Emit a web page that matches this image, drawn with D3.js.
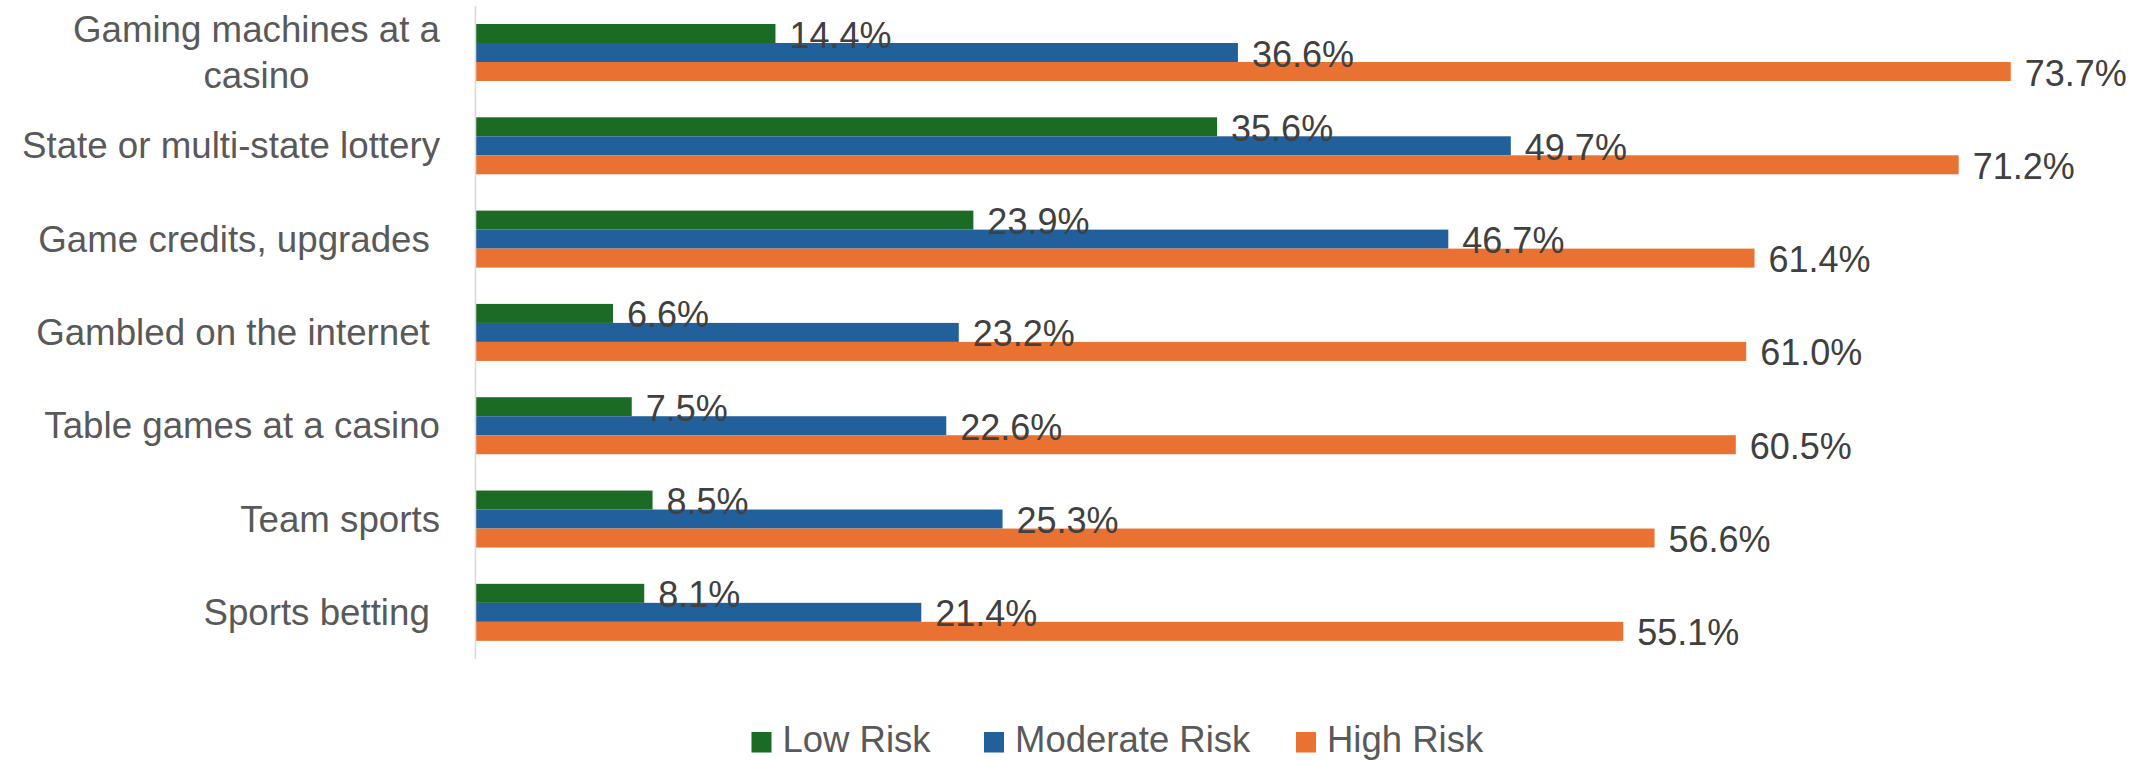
<!DOCTYPE html>
<html>
<head>
<meta charset="utf-8">
<script src="https://cdn.jsdelivr.net/npm/d3@7"></script>
<style>
  html, body { margin: 0; padding: 0; background: #ffffff; }
  svg { display: block; }
  text { font-family: "Liberation Sans", Arial, sans-serif; white-space: pre; }
</style>
</head>
<body>
<svg id="chart" width="2149" height="760"></svg>
<script>
const categories = [
  ["Gaming machines at a", "casino"],
  ["State or multi-state lottery"],
  ["Game credits, upgrades "],
  ["Gambled on the internet "],
  ["Table games at a casino"],
  ["Team sports"],
  ["Sports betting "]
];
const seriesNames = ["Low Risk", "Moderate Risk", "High Risk"];
const lowRisk = [14.4, 35.6, 23.9, 6.6, 7.5, 8.5, 8.1];
const moderateRisk = [36.6, 49.7, 46.7, 23.2, 22.6, 25.3, 21.4];
const highRisk = [73.7, 71.2, 61.4, 61.0, 60.5, 56.6, 55.1];
const seriesColors = ["#1B6B24", "#22609B", "#E97132"];

const seriesValues = [lowRisk, moderateRisk, highRisk];
const svg = d3.select("#chart");

const x = d3.scaleLinear().domain([0, 80]).range([475.5, 2142]);
const catIdx = d3.range(categories.length);
const y = d3.scaleBand().domain(catIdx).range([5.85, 659]).paddingInner(0.389).paddingOuter(0.1945);
const ySub = d3.scaleBand().domain(d3.range(seriesNames.length)).range([0, y.bandwidth()]);

// bars
seriesNames.forEach((name, s) => {
  const g = svg.append("g");
  g.selectAll("rect").data(seriesValues[s]).join("rect")
    .attr("x", x(0))
    .attr("y", (d, i) => y(i) + ySub(s))
    .attr("width", d => x(d) - x(0))
    .attr("height", ySub.bandwidth())
    .attr("fill", seriesColors[s]);
});

// data labels
seriesNames.forEach((name, s) => {
  svg.append("g").selectAll("text").data(seriesValues[s]).join("text")
    .attr("x", d => x(d) + 14)
    .attr("y", (d, i) => y(i) + ySub(s) + ySub.bandwidth() / 2 + 14)
    .attr("font-size", 36)
    .attr("fill", "#404040")
    .text(d => d.toFixed(1) + "%");
});

// axis line (vertical)
svg.append("line")
  .attr("x1", x(0)).attr("x2", x(0))
  .attr("y1", 6).attr("y2", 659)
  .attr("stroke", "#d9d9d9").attr("stroke-width", 1.6);

// category labels
const labelX = 440;
const labelFs = 36.7;
const lineH = 45.6;
categories.forEach((lines, i) => {
  const cy = y(i) + y.bandwidth() / 2;
  const t = svg.append("text")
    .attr("font-size", labelFs)
    .attr("fill", "#595959")
    .attr("text-anchor", "middle");
  const n = lines.length;
  const widths = [];
  lines.forEach((ln) => {
    const tmp = svg.append("text").attr("font-size", labelFs).style("white-space", "pre").text(ln);
    widths.push(tmp.node().getComputedTextLength());
    tmp.remove();
  });
  const maxW = d3.max(widths);
  const centerX = labelX - maxW / 2;
  lines.forEach((ln, k) => {
    t.append("tspan")
      .attr("x", centerX)
      .attr("y", cy + 12.5 + (k - (n - 1) / 2) * lineH)
      .text(ln);
  });
});

// legend
const legendX = [751.5, 984, 1296];
const legend = svg.append("g");
seriesNames.forEach((name, s) => {
  legend.append("rect")
    .attr("x", legendX[s]).attr("y", 732)
    .attr("width", 20).attr("height", 20.5)
    .attr("fill", seriesColors[s]);
  legend.append("text")
    .attr("x", legendX[s] + 31).attr("y", 752)
    .attr("font-size", 36.5)
    .attr("fill", "#595959")
    .text(name);
});
</script>
</body>
</html>
